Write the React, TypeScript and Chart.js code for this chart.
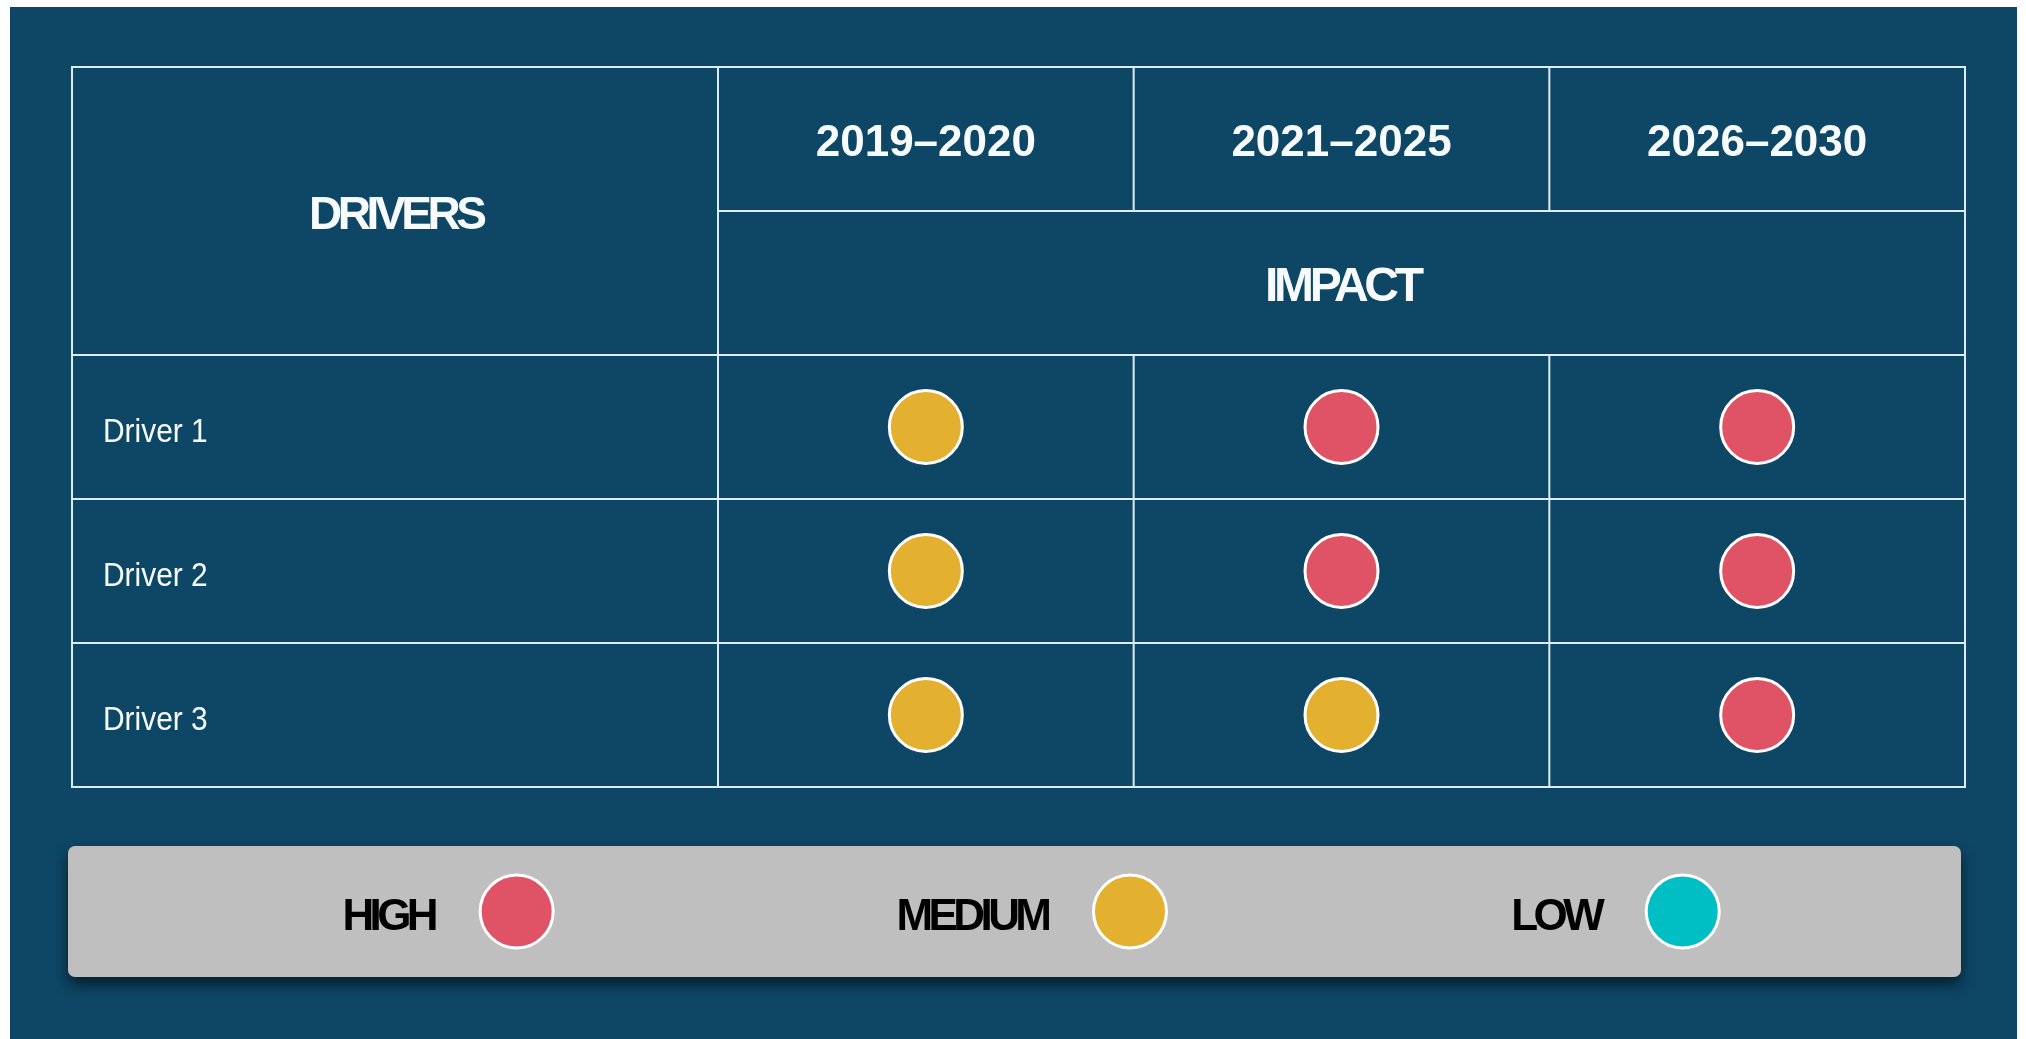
import React, { useEffect, useRef } from "react";
import { Chart, registerables } from "chart.js";

Chart.register(...registerables);

// ---- data ----
const periods = ["2019–2020", "2021–2025", "2026–2030"];
const drivers = ["Driver 1", "Driver 2", "Driver 3"];
const levels = ["HIGH", "MEDIUM", "LOW"];
const levelColors = ["#e05366", "#e3b030", "#00bfc4"];
// impact level per driver (rows) per period (columns)
const driver1Impact = ["MEDIUM", "HIGH", "HIGH"];
const driver2Impact = ["MEDIUM", "HIGH", "HIGH"];
const driver3Impact = ["MEDIUM", "MEDIUM", "HIGH"];
const impactRows = [driver1Impact, driver2Impact, driver3Impact];
const headerDrivers = "DRIVERS";
const headerImpact = "IMPACT";

// ---- layout / style constants ----
const W = 2026;
const H = 1039;
const PANEL = { left: 10, top: 7, right: 2017, bottom: 1039 };
const TABLE_LEFT = 72;
const HEADER_TOP = 67;
const HEADER_ROW_H = 144;
const LEGEND_BOX = { left: 68, top: 846, right: 1961, bottom: 977 };
const LEGEND_CIRCLE_FRAC = [0.237, 0.561, 0.853];
const BG = "#0e4665";
const LINE = "#dcedf7";
const TEXT = "#f7fbfd";
const FONT = "'Liberation Sans', Arial, sans-serif";
const CAP = 0.716;

function drawText(
  ctx: CanvasRenderingContext2D,
  text: string,
  x: number,
  capCenterY: number,
  size: number,
  weight: string,
  color: string,
  align: "left" | "center" | "right",
  sx: number,
  spacing = 0
) {
  ctx.save();
  ctx.font = `${weight} ${size}px ${FONT}`;
  ctx.fillStyle = color;
  ctx.textAlign = align;
  ctx.textBaseline = "alphabetic";
  (ctx as any).letterSpacing = `${spacing}px`;
  // compensate for trailing spacing so alignment stays on glyphs
  let dx = 0;
  if (spacing !== 0) {
    if (align === "center") dx = -spacing / 2;
    else if (align === "right") dx = -spacing;
  }
  ctx.translate(x, capCenterY + (size * CAP) / 2);
  ctx.scale(sx, 1);
  ctx.fillText(text, -dx, 0);
  ctx.restore();
}

const tablePlugin = {
  id: "tablePlugin",
  beforeDraw(chart: any) {
    const ctx: CanvasRenderingContext2D = chart.ctx;
    ctx.save();
    ctx.fillStyle = "#ffffff";
    ctx.fillRect(0, 0, W, H);
    ctx.fillStyle = BG;
    ctx.fillRect(PANEL.left, PANEL.top, PANEL.right - PANEL.left, PANEL.bottom - PANEL.top);
    ctx.restore();
  },
  beforeDatasetsDraw(chart: any) {
    const ctx: CanvasRenderingContext2D = chart.ctx;
    const xs = chart.scales.x;
    const ys = chart.scales.y;
    const area = chart.chartArea;
    const colW = area.width / periods.length;
    const rowH = area.height / drivers.length;
    const headerMid = HEADER_TOP + HEADER_ROW_H;
    const headerBottom = area.top;

    ctx.save();
    ctx.strokeStyle = LINE;
    ctx.lineWidth = 2;
    const line = (x1: number, y1: number, x2: number, y2: number) => {
      ctx.beginPath();
      ctx.moveTo(x1, y1);
      ctx.lineTo(x2, y2);
      ctx.stroke();
    };
    // outer border
    ctx.strokeRect(TABLE_LEFT, HEADER_TOP, area.right - TABLE_LEFT, area.bottom - HEADER_TOP);
    // drivers column divider
    line(area.left, HEADER_TOP, area.left, area.bottom);
    // header split (period row / impact row)
    line(area.left, headerMid, area.right, headerMid);
    // header bottom
    line(TABLE_LEFT, headerBottom, area.right, headerBottom);
    // period column dividers (header period row + body)
    for (let i = 1; i < periods.length; i++) {
      const x = xs.getPixelForValue(i) - colW / 2;
      line(x, HEADER_TOP, x, headerMid);
      line(x, area.top, x, area.bottom);
    }
    // body row dividers
    for (let j = 1; j < drivers.length; j++) {
      const y = ys.getPixelForValue(j) - rowH / 2;
      line(TABLE_LEFT, y, area.right, y);
    }
    ctx.restore();

    // header texts
    drawText(ctx, headerDrivers, (TABLE_LEFT + area.left) / 2 + 3, (HEADER_TOP + headerBottom) / 2 + 2, 46, "bold", TEXT, "center", 1, -4.4);
    periods.forEach((p, i) => {
      drawText(ctx, p, xs.getPixelForValue(i), HEADER_TOP + HEADER_ROW_H / 2 + 1, 44, "bold", TEXT, "center", 1.0);
    });
    drawText(ctx, headerImpact, (area.left + area.right) / 2 + 3, (headerMid + headerBottom) / 2 + 1, 48, "bold", TEXT, "center", 1, -4.3);
    // driver labels
    drivers.forEach((d, j) => {
      drawText(ctx, d, TABLE_LEFT + 31, ys.getPixelForValue(j) + 3, 34, "normal", TEXT, "left", 0.88);
    });
  },
  afterDraw(chart: any) {
    const ctx: CanvasRenderingContext2D = chart.ctx;
    const b = LEGEND_BOX;
    ctx.save();
    ctx.shadowColor = "rgba(0,0,0,0.55)";
    ctx.shadowBlur = 14;
    ctx.shadowOffsetY = 8;
    ctx.fillStyle = "#bfbfbf";
    ctx.beginPath();
    (ctx as any).roundRect(b.left, b.top, b.right - b.left, b.bottom - b.top, 7);
    ctx.fill();
    ctx.restore();

    const cy = (b.top + b.bottom) / 2;
    levels.forEach((lv, k) => {
      const cx = b.left + (b.right - b.left) * LEGEND_CIRCLE_FRAC[k];
      drawText(ctx, lv, cx - 78, cy + 3, 44, "bold", "#000000", "right", 1, -4.6);
      ctx.save();
      ctx.beginPath();
      ctx.arc(cx, cy, 36.5, 0, Math.PI * 2);
      ctx.fillStyle = levelColors[k];
      ctx.fill();
      ctx.lineWidth = 3;
      ctx.strokeStyle = "#ffffff";
      ctx.stroke();
      ctx.restore();
    });
  },
};

export default function App() {
  const ref = useRef<HTMLCanvasElement | null>(null);

  useEffect(() => {
    if (!ref.current) return;
    const datasets = levels.map((lv, k) => {
      const pts: { x: string; y: string }[] = [];
      impactRows.forEach((row, j) => {
        row.forEach((v, i) => {
          if (v === lv) pts.push({ x: periods[i], y: drivers[j] });
        });
      });
      return {
        label: lv,
        data: pts,
        pointRadius: 36.5,
        pointHoverRadius: 36.5,
        pointBackgroundColor: levelColors[k],
        pointBorderColor: "#ffffff",
        pointBorderWidth: 3,
        showLine: false,
      };
    });

    const chart = new Chart(ref.current, {
      type: "scatter",
      data: { datasets },
      options: {
        responsive: false,
        animation: false,
        devicePixelRatio: 1,
        events: [],
        layout: {
          padding: { left: 718, right: W - 1965, top: 355, bottom: H - 787 },
        },
        scales: {
          x: { type: "category", labels: periods, offset: true, display: false },
          y: { type: "category", labels: drivers, offset: true, display: false },
        },
        plugins: {
          legend: { display: false },
          tooltip: { enabled: false },
        },
      },
      plugins: [tablePlugin],
    } as any);
    return () => chart.destroy();
  }, []);

  return (
    <div style={{ position: "fixed", left: 0, top: 0, width: W, height: H, background: "#fff" }}>
      <canvas ref={ref} width={W} height={H} style={{ display: "block", width: W, height: H }} />
    </div>
  );
}
